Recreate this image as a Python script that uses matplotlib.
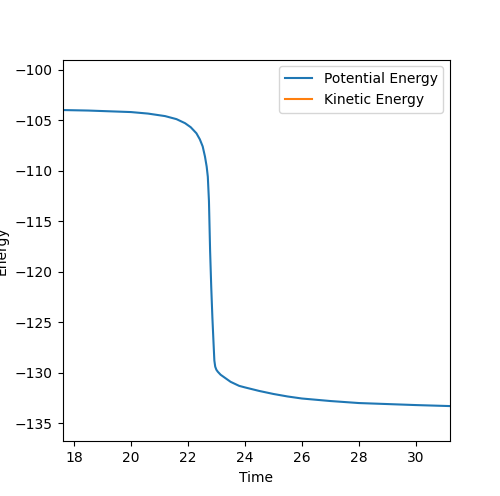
import numpy as np
import matplotlib
matplotlib.use("Agg")
import matplotlib.pyplot as plt

# values
time = [17.6, 18.5, 19.5, 20.0, 20.6, 21.2, 21.6, 21.9, 22.1, 22.3, 22.42, 22.52,
        22.6, 22.66, 22.7, 22.74, 22.78, 22.82, 22.86, 22.9, 22.93, 22.96, 23.0,
        23.05, 23.15, 23.3, 23.5, 23.8, 24.0, 24.5, 25.0, 25.5, 26.0, 27.0, 28.0,
        29.0, 30.0, 31.2]
potential = [-104.0, -104.05, -104.15, -104.2, -104.35, -104.6, -104.9, -105.3,
             -105.7, -106.3, -106.9, -107.6, -108.6, -109.6, -110.6, -113.0,
             -117.9, -121.5, -124.5, -127.0, -128.8, -129.4, -129.7, -129.9,
             -130.2, -130.5, -130.9, -131.3, -131.45, -131.8, -132.1, -132.35,
             -132.55, -132.8, -133.0, -133.1, -133.2, -133.3]
# kinetic energy lies outside the plotted y range
kinetic = [2.0, 2.1, 2.2, 2.3, 2.5, 2.8, 3.2, 3.7, 4.1, 4.8, 5.4, 6.1,
           7.0, 8.1, 9.0, 11.5, 16.0, 19.8, 22.7, 25.1, 26.9, 27.4, 27.8,
           28.0, 28.2, 28.5, 28.9, 29.3, 29.4, 29.8, 30.1, 30.3, 30.5,
           30.8, 31.0, 31.1, 31.2, 31.3]

fig = plt.figure(figsize=(5, 4.96), dpi=100)
ax = fig.add_subplot(111)
ax.plot(time, potential, label="Potential Energy")
ax.plot(time, kinetic, label="Kinetic Energy")
ax.set_xlim(17.6, 31.2)
ax.set_ylim(-136.8, -99.0)
ax.set_xlabel("Time")
ax.set_ylabel("Energy")
ax.legend(loc="upper right")
fig.savefig("out.png")
